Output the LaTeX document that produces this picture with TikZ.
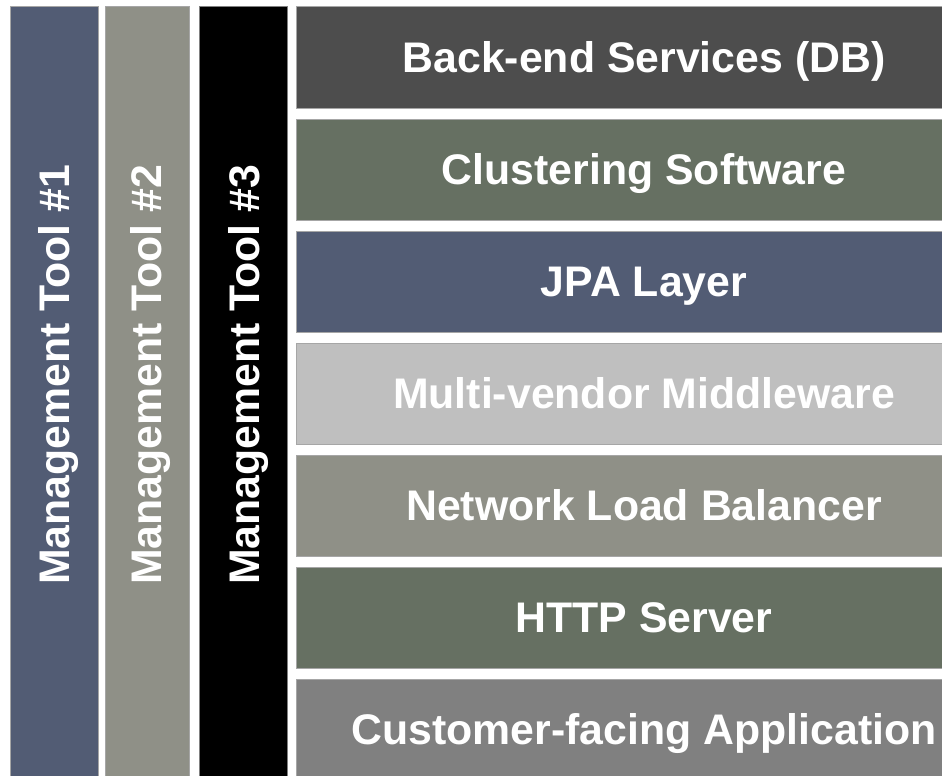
\documentclass[tikz,border=0pt]{standalone}
\usepackage{fontspec}
\setmainfont{Liberation Sans}
\definecolor{cSlate}{HTML}{525C74}
\definecolor{cKhaki}{HTML}{8F9087}
\definecolor{cDark}{HTML}{4D4D4D}
\definecolor{cGreen}{HTML}{667062}
\definecolor{cLight}{HTML}{BFBFBF}
\definecolor{cMid}{HTML}{808080}
\begin{document}
\begin{tikzpicture}[x=1pt,y=-1pt,
  bar/.style={draw=black!35,line width=1pt},
  lbl/.style={text=white,font=\fontsize{42.8}{50}\selectfont\bfseries,inner sep=0pt},
  vlbl/.style={lbl,rotate=90,anchor=base west}]
\useasboundingbox (0,0) rectangle (942,776);
\clip (0,0) rectangle (942,776);
% columns
\path[bar,fill=cSlate] (10,7) rectangle (98,790);
\path[bar,fill=cKhaki] (105,7) rectangle (189,790);
\path[fill=black,draw=black!50,line width=1pt] (199,7) rectangle (287,790);
\node[vlbl] (t1) at (69,585) {Management Tool \#1};
\node[vlbl] (t2) at (161,585) {Management Tool \#2};
\node[vlbl] (t3) at (259,585) {Management Tool \#3};
% rows
\path[bar,fill=cDark]  (296,7)   rectangle (960,108);
\path[bar,fill=cGreen] (296,119) rectangle (960,220);
\path[bar,fill=cSlate] (296,231) rectangle (960,332);
\path[bar,fill=cLight] (296,343) rectangle (960,444);
\path[bar,fill=cKhaki] (296,455) rectangle (960,556);
\path[bar,fill=cGreen] (296,567) rectangle (960,668);
\path[bar,fill=cMid]   (296,679) rectangle (960,790);
\node[lbl,anchor=base] (r1) at (644,72)  {Back-end Services (DB)};
\node[lbl,anchor=base] (r2) at (644,184) {Clustering Software};
\node[lbl,anchor=base] (r3) at (644,296) {JPA Layer};
\node[lbl,anchor=base] (r4) at (644,408) {Multi-vendor Middleware};
\node[lbl,anchor=base] (r5) at (644,520) {Network Load Balancer};
\node[lbl,anchor=base] (r6) at (644,632) {HTTP Server};
\node[lbl,anchor=base] (r7) at (644,744) {Customer-facing Application};
\end{tikzpicture}
\end{document}
